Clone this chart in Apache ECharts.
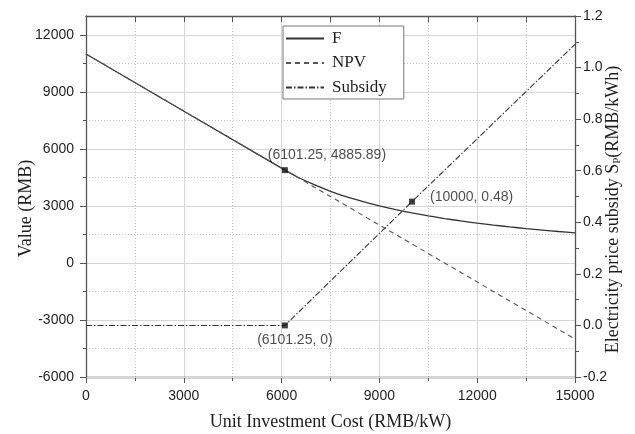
<!DOCTYPE html>
<html>
<head>
<meta charset="utf-8">
<script src="https://cdn.jsdelivr.net/npm/echarts@6/dist/echarts.min.js"></script>
<style>
  html, body { margin: 0; padding: 0; background: #ffffff; }
  #chart { width: 635px; height: 434px; }
</style>
</head>
<body>
<div id="chart"></div>
<script>
// Option value F over unit investment cost (RMB/kW)
const fCost  = [0, 6101.25, 6500, 7000, 7500, 8000, 8500, 9000, 9500, 10000, 10500, 11000, 11500, 12000, 12500, 13000, 13500, 14000, 14500, 15000];
const fValue = [11000, 4885.89, 4515, 4120, 3775, 3480, 3230, 3005, 2810, 2636, 2480, 2340, 2215, 2100, 1995, 1900, 1812, 1732, 1657, 1588];

// Net present value (straight line)
const npvCost  = [0, 15000];
const npvValue = [11000, -4000];

// Electricity price subsidy S_P (RMB/kWh), right axis
const subsidyCost  = [0, 6101.25, 10000, 15000];
const subsidyValue = [0, 0, 0.48, 1.09];

// Highlighted points
const keyCost  = [6101.25];
const keyValue = [4885.89];
const subsidyKeyCost  = [6101.25, 10000];
const subsidyKeyValue = [0, 0.48];

// Axis ticks
const costTicks  = [0, 3000, 6000, 9000, 12000, 15000];
const valueTicks = [-6000, -3000, 0, 3000, 6000, 9000, 12000];
const valueMinorTicks = [-4500, -1500, 1500, 4500, 7500, 10500];
const subsidyTicks = [-0.2, 0, 0.2, 0.4, 0.6, 0.8, 1.0, 1.2];

const zip = (xs, ys) => xs.map((x, i) => [x, ys[i]]);

const SANS = 'Liberation Sans, Arial, sans-serif';
const SERIF = 'Liberation Serif, Times New Roman, serif';
const AXIS = '#555555';
const TEXT = '#1e1e1e';
const MAJOR_GRID = { color: '#d6d6d6', width: 1, type: 'solid' };
const MINOR_GRID = { color: '#c4c4c4', width: 1, type: [1, 2] };

const chart = echarts.init(document.getElementById('chart'), null, { renderer: 'canvas' });

const labelStyle = { fontFamily: SANS, fontSize: 14, color: TEXT };

const option = {
  backgroundColor: '#ffffff',
  animation: false,
  grid: { left: 86, right: 60, top: 16, bottom: 57, containLabel: false, outerBoundsMode: 'none' },
  legend: {
    data: ['F', 'NPV', 'Subsidy'],
    orient: 'vertical',
    left: 283,
    top: 26,
    itemWidth: 38,
    itemHeight: 14,
    itemGap: 7.5,
    padding: [4, 17, 3, 2],
    borderColor: '#777777',
    borderWidth: 1,
    backgroundColor: '#ffffff',
    itemStyle: { opacity: 0 },
    textStyle: { fontFamily: SERIF, fontSize: 17, color: TEXT, padding: [0, 0, 0, 3] }
  },
  xAxis: [
    {
      type: 'value',
      position: 'bottom',
      min: 0, max: 15000, interval: 3000,
      name: 'Unit Investment Cost (RMB/kW)',
      nameLocation: 'middle',
      nameGap: 36,
      nameMoveOverlap: false,
      nameTextStyle: { fontFamily: SERIF, fontSize: 18, color: TEXT },
      axisLine: { show: true, onZero: false, lineStyle: { color: AXIS, width: 1.3 } },
      axisTick: { show: true, inside: false, length: 6, lineStyle: { color: AXIS } },
      minorTick: { show: true, splitNumber: 2, length: 4, lineStyle: { color: AXIS } },
      axisLabel: {
        margin: 12, fontFamily: SANS, fontSize: 14, color: TEXT,
        customValues: costTicks,
        formatter: v => String(v)
      },
      splitLine: { show: true, lineStyle: MAJOR_GRID },
      minorSplitLine: { show: true, lineStyle: MINOR_GRID },
      z: 1
    },
    {
      type: 'value',
      position: 'top',
      min: 0, max: 15000, interval: 3000,
      axisLine: { show: true, onZero: false, lineStyle: { color: AXIS, width: 1.3 } },
      axisTick: { show: true, inside: true, length: 6, lineStyle: { color: AXIS } },
      minorTick: { show: true, splitNumber: 2, length: 6, lineStyle: { color: AXIS } },
      axisLabel: { show: false },
      splitLine: { show: false },
      z: 1
    }
  ],
  yAxis: [
    {
      type: 'value',
      position: 'left',
      min: -6000, max: 13000, interval: 3000,
      name: 'Value (RMB)',
      nameLocation: 'middle',
      nameGap: 51,
      nameMoveOverlap: false,
      nameTextStyle: { fontFamily: SERIF, fontSize: 18, color: TEXT, padding: [0, 24, 0, 0] },
      axisLine: { show: true, onZero: false, lineStyle: { color: AXIS, width: 1.3 } },
      axisTick: { show: true, inside: false, length: 6, customValues: valueTicks, lineStyle: { color: AXIS } },
      axisLabel: {
        margin: 12, fontFamily: SANS, fontSize: 14, color: TEXT,
        customValues: valueTicks,
        formatter: v => String(v)
      },
      splitLine: { show: true, lineStyle: MAJOR_GRID },
      z: 2
    },
    {
      type: 'value',
      position: 'right',
      min: -0.2, max: 1.2, interval: 0.2,
      name: 'Electricity price subsidy S{sub|P}(RMB/kWh)',
      nameLocation: 'middle',
      nameRotate: 90,
      nameGap: 28,
      nameMoveOverlap: false,
      nameTextStyle: {
        fontFamily: SERIF, fontSize: 18, color: TEXT, lineHeight: 20, padding: [0, 26, 0, 0],
        rich: { sub: { fontFamily: SERIF, fontSize: 11, lineHeight: 12, padding: [8, 0, 0, 0], color: TEXT } }
      },
      axisLine: { show: true, onZero: false, lineStyle: { color: AXIS, width: 1.3 } },
      axisTick: { show: true, inside: false, length: 6, lineStyle: { color: AXIS } },
      minorTick: { show: true, splitNumber: 2, length: 4, lineStyle: { color: AXIS } },
      axisLabel: {
        margin: 8, fontFamily: SANS, fontSize: 14, color: TEXT,
        customValues: subsidyTicks,
        formatter: v => v.toFixed(1)
      },
      splitLine: { show: false },
      z: 2
    },
    {
      // minor grid lines and minor ticks of the value axis
      type: 'value',
      position: 'left',
      min: -6000, max: 13000, interval: 1500,
      axisLine: { show: false },
      axisTick: { show: true, inside: false, length: 3, customValues: valueMinorTicks, lineStyle: { color: AXIS } },
      axisLabel: { show: false },
      splitLine: { show: true, lineStyle: MINOR_GRID },
      z: 0
    }
  ],
  series: [
    {
      name: 'F',
      type: 'line',
      xAxisIndex: 0, yAxisIndex: 0,
      data: zip(fCost, fValue),
      symbol: 'none',
      smooth: 0.2,
      lineStyle: { color: '#333333', width: 1.3, type: 'solid' },
      itemStyle: { color: '#333333' },
      z: 3
    },
    {
      name: 'NPV',
      type: 'line',
      xAxisIndex: 0, yAxisIndex: 0,
      data: zip(npvCost, npvValue),
      symbol: 'none',
      lineStyle: { color: '#555555', width: 1.1, type: [5, 4] },
      itemStyle: { color: '#555555' },
      z: 3
    },
    {
      name: 'Subsidy',
      type: 'line',
      xAxisIndex: 0, yAxisIndex: 1,
      data: zip(subsidyCost, subsidyValue),
      symbol: 'none',
      lineStyle: { color: '#333333', width: 1.1, type: [6, 2, 1.5, 2] },
      itemStyle: { color: '#333333' },
      z: 3
    },
    {
      name: 'F point',
      type: 'scatter',
      xAxisIndex: 0, yAxisIndex: 0,
      symbol: 'rect',
      symbolSize: 6,
      itemStyle: { color: '#111111' },
      data: keyCost.map((x, i) => ({
        value: [x, keyValue[i]],
        label: {
          show: true, position: 'top', distance: 5, offset: [42, 0],
          formatter: `(${x}, ${keyValue[i]})`, ...labelStyle
        }
      })),
      z: 4
    },
    {
      name: 'Subsidy points',
      type: 'scatter',
      xAxisIndex: 0, yAxisIndex: 1,
      symbol: 'rect',
      symbolSize: 6,
      itemStyle: { color: '#111111' },
      data: subsidyKeyCost.map((x, i) => ({
        value: [x, subsidyKeyValue[i]],
        label: i === 0
          ? { show: true, position: 'bottom', distance: 5, offset: [10, 0],
              formatter: `(${x}, ${subsidyKeyValue[i]})`, ...labelStyle }
          : { show: true, position: 'right', distance: 5, offset: [10, -5],
              formatter: `(${x}, ${subsidyKeyValue[i]})`, ...labelStyle }
      })),
      z: 4
    }
  ]
};

chart.setOption(option);
</script>
</body>
</html>
